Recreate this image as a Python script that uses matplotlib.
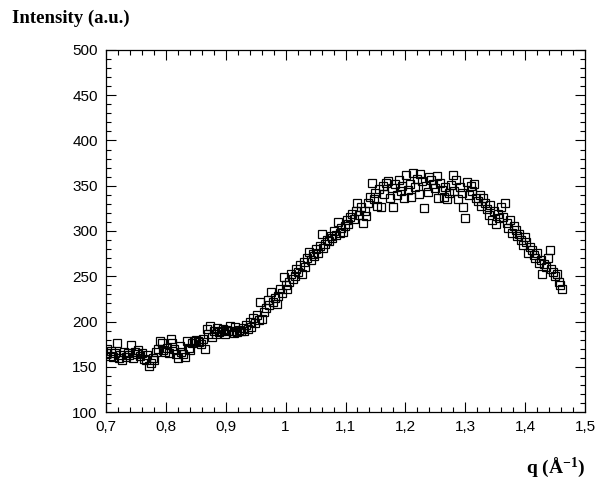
import matplotlib
matplotlib.use("Agg")
import matplotlib.pyplot as plt
from matplotlib.ticker import MultipleLocator, FuncFormatter

q_a = [0.700,0.702,0.706,0.709,0.712,0.715,0.718,0.721,0.724,0.727,0.730,0.733,0.736,0.739,0.742,0.745,0.748,0.751,0.754,0.757,0.760,0.763,0.766,0.769,0.772,0.775,0.778,0.781,0.784,0.787,0.790,0.793,0.796,0.799]
i_a = [165,170,162,167,161,165,176,160,163,158,166,161,165,163,174,160,166,164,168,162,165,159,157,163,151,154,160,157,166,170,178,176,168,166]
q_b = [0.802,0.805,0.808,0.811,0.814,0.817,0.820,0.823,0.826,0.829,0.832,0.835,0.838,0.841,0.844,0.847,0.850,0.853,0.856,0.859,0.862,0.865,0.868]
i_b = [171,165,181,176,170,164,160,173,166,164,161,178,171,168,176,179,180,178,177,175,181,170,192]
q_c = [0.871,0.874,0.877,0.880,0.883,0.886,0.889,0.892,0.895,0.898,0.901,0.904,0.907,0.910,0.913,0.916,0.919,0.922,0.925,0.928,0.931,0.934,0.937,0.940,0.943,0.946,0.949]
i_c = [186,195,183,189,186,193,188,190,192,186,191,189,195,190,187,194,188,191,189,193,190,196,192,199,194,204,198]
q_d = [0.952,0.955,0.958,0.961,0.964,0.967,0.970,0.973,0.976,0.979,0.982,0.985,0.988,0.991,0.994,0.997,1.000,1.003,1.006,1.009,1.012,1.015,1.018,1.021,1.024,1.027,1.030,1.033,1.036,1.039]
i_d = [207,202,222,203,211,215,224,218,233,221,226,219,228,236,231,249,240,236,244,252,247,250,258,255,262,253,266,260,270,277]
q_e = [1.042,1.045,1.048,1.051,1.054,1.057,1.060,1.063,1.066,1.069,1.072,1.075,1.078,1.081,1.084,1.087,1.090,1.093,1.096,1.099,1.102,1.105,1.108,1.111,1.114,1.117,1.120,1.123,1.126,1.129,1.132,1.135,1.138]
i_e = [268,275,272,280,276,283,297,281,286,290,289,295,292,300,296,310,298,303,299,305,312,308,316,319,313,322,331,318,327,309,322,317,331]
q_f = [1.141,1.144,1.147,1.150,1.153,1.156,1.159,1.162,1.165,1.168,1.171,1.174,1.177,1.180,1.183,1.186,1.189,1.192,1.195,1.198]
i_f = [338,353,335,342,328,346,326,350,341,353,355,337,348,326,352,340,356,344,350,336]
q_g = [1.201,1.204,1.207,1.210,1.213,1.216,1.219,1.222,1.225,1.228,1.231,1.234,1.237,1.240,1.243,1.246,1.249,1.252,1.255,1.258,1.261,1.264,1.267,1.270,1.273,1.276,1.279,1.282,1.285,1.288,1.291,1.294,1.297,1.300]
i_g = [362,345,352,338,364,349,357,341,363,355,325,350,343,360,356,352,347,361,337,353,345,338,349,335,342,351,362,344,356,335,349,342,326,314]
q_h = [1.303,1.306,1.309,1.312,1.315,1.318,1.321,1.324,1.327,1.330,1.333,1.336,1.339,1.342,1.345,1.348,1.351,1.354,1.357,1.360,1.363,1.366,1.369,1.372,1.375,1.378,1.381,1.384,1.387,1.390]
i_h = [354,340,350,344,352,337,333,340,328,336,331,324,318,329,312,322,308,319,314,326,316,331,309,303,312,298,306,301,295,297]
q_i = [1.393,1.396,1.399,1.402,1.405,1.408,1.411,1.414,1.417,1.420,1.423,1.426,1.429,1.432,1.435,1.438,1.441,1.444,1.447,1.450,1.453,1.456,1.459,1.462]
i_i = [290,284,293,288,276,282,279,273,270,276,265,268,252,264,260,270,279,258,255,250,253,244,240,236]

q = q_a + q_b + q_c + q_d + q_e + q_f + q_g + q_h + q_i
intensity = i_a + i_b + i_c + i_d + i_e + i_f + i_g + i_h + i_i

x_ticks = [0.7, 0.8, 0.9, 1.0, 1.1, 1.2, 1.3, 1.4, 1.5]
y_ticks = [100, 150, 200, 250, 300, 350, 400, 450, 500]

plt.rcParams['mathtext.fontset'] = 'custom'
plt.rcParams['mathtext.rm'] = 'Liberation Serif:bold'
plt.rcParams['mathtext.it'] = 'Liberation Serif:bold'
plt.rcParams['mathtext.bf'] = 'Liberation Serif:bold'

fig = plt.figure(figsize=(6.08, 4.83), dpi=100)
ax = fig.add_axes([106/608, (483-412)/483, (585-106)/608, (412-50)/483])

ax.plot(q, intensity, linestyle='none', marker='s', markersize=5.2,
        markerfacecolor='none', markeredgecolor='black', markeredgewidth=0.9)

ax.set_xlim(0.7, 1.5)
ax.set_ylim(100, 500)
ax.set_xticks(x_ticks)
ax.set_yticks(y_ticks)
ax.xaxis.set_minor_locator(MultipleLocator(0.02))
ax.yaxis.set_minor_locator(MultipleLocator(10))

def fmt_x(v, pos):
    s = f"{v:.1f}"
    if s.endswith(".0"):
        s = s[:-2]
    return s.replace(".", ",")

ax.xaxis.set_major_formatter(FuncFormatter(fmt_x))
ax.tick_params(which='both', direction='in', top=True, right=True, width=0.8)
ax.tick_params(which='major', length=7, labelsize=11, pad=6)
ax.tick_params(which='minor', length=3.5)
for lbl in ax.get_xticklabels() + ax.get_yticklabels():
    lbl.set_fontfamily('Liberation Sans')
for sp in ax.spines.values():
    sp.set_linewidth(0.9)

fig.text(12/608, 1 - 18/483, "Intensity (a.u.)", fontfamily='Liberation Serif',
         fontweight='bold', fontsize=13.5, ha='left', va='center')
fig.text(585/608, 1 - 467/483, r"q (Å$^{-1}$)", fontfamily='Liberation Serif',
         fontweight='bold', fontsize=14, ha='right', va='center')

fig.savefig("out.png", dpi=100)
